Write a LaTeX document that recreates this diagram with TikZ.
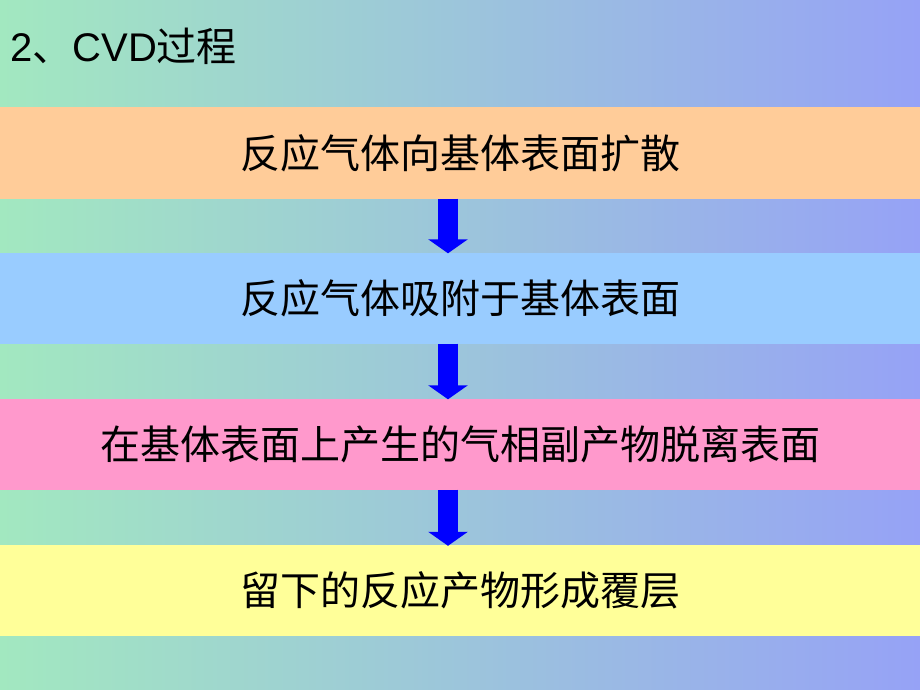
\documentclass[tikz,border=0pt]{standalone}
\usepackage{fontspec}
\setmainfont{Liberation Sans}
\newfontfamily\cjk{Noto Sans CJK SC}
\usetikzlibrary{arrows.meta}
\definecolor{bgleft}{HTML}{A2E8C0}
\definecolor{bgright}{HTML}{96A2F6}
\definecolor{stepone}{HTML}{FFCC99}
\definecolor{steptwo}{HTML}{99CCFF}
\definecolor{stepthree}{HTML}{FF99CC}
\definecolor{stepfour}{HTML}{FFFF99}
\definecolor{arrowblue}{HTML}{0000FF}
\tikzset{
  band/.style={rectangle, inner sep=0pt, minimum width=920pt,
    minimum height=91pt, font=\cjk\fontsize{40}{48}\selectfont},
  flow/.style={arrowblue, line width=20pt,
    -{Triangle[length=14pt, width=39pt]}, shorten >=-1pt}
}
\begin{document}
\begin{tikzpicture}[x=1pt, y=-1pt]
  \useasboundingbox (0,0) rectangle (920,690);
  \shade[left color=bgleft, right color=bgright] (0,0) rectangle (920,690);
  % title
  \node (title) [anchor=base west, inner sep=0pt,
    font=\fontsize{40}{48}\selectfont] at (10,62)
    {2{\cjk 、}CVD{\cjk 过程}};
  % steps
  \node (diffuse) [band, fill=stepone] at (460,153) {反应气体向基体表面扩散};
  \node (adsorb) [band, fill=steptwo] at (460,298) {反应气体吸附于基体表面};
  \node (desorb) [band, fill=stepthree] at (460,444) {在基体表面上产生的气相副产物脱离表面};
  \node (coat) [band, fill=stepfour] at (460,590.5) {留下的反应产物形成覆层};
  % arrows
  \draw[flow] ([xshift=-12pt]diffuse.south) -- ([xshift=-12pt]adsorb.north);
  \draw[flow] ([xshift=-12pt]adsorb.south) -- ([xshift=-12pt]desorb.north);
  \draw[flow] ([xshift=-12pt]desorb.south) -- ([xshift=-12pt]coat.north);
\end{tikzpicture}
\end{document}
